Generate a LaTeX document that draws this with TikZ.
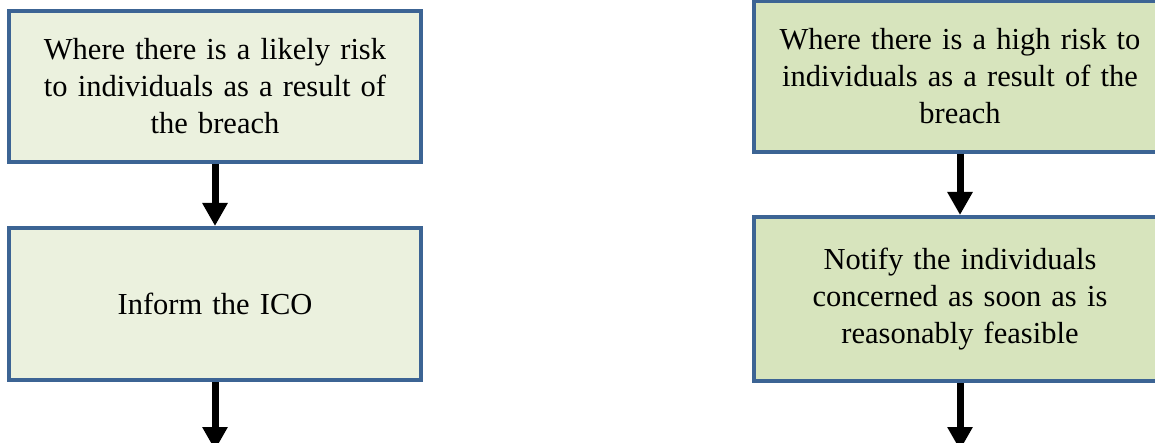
\documentclass[tikz,border=0pt]{standalone}
\usepackage{fontspec}
\setmainfont{Liberation Serif}
\usetikzlibrary{arrows.meta}
\definecolor{boxblue}{HTML}{3C6494}
\definecolor{paleolive}{HTML}{EBF1DE}
\definecolor{lightolive}{HTML}{D7E4BD}

\begin{document}
\begin{tikzpicture}[x=1pt, y=1pt,
            box/.style={rectangle, draw=boxblue, line width=4pt,
                        text width=395pt, align=center,
                        minimum width=412pt,
                        font=\fontsize{30.5}{37}\selectfont},
            flow/.style={-{Triangle[width=24pt,length=23pt]}, line width=7pt, black}
        ]
            \useasboundingbox (0,0) rectangle (1155,-443);
            \clip (0,0) rectangle (1155,-443);
            % likely risk: inform the ICO
            \node[box, fill=paleolive, minimum height=151pt] (likely) at (215,-86.5)
                {Where there is a likely risk\\ to individuals as a result of\\ the breach};
            \node[box, fill=paleolive, minimum height=152pt] (ico) at (215,-304)
                {Inform the ICO};
            \coordinate (icoend) at (215,-450);
            % high risk: notify the individuals
            \node[box, fill=lightolive, minimum height=151pt] (high) at (960,-76.5)
                {Where there is a high risk to\\ individuals as a result of the\\ breach};
            \node[box, fill=lightolive, minimum height=164pt] (notify) at (960,-299)
                {Notify the individuals\\ concerned as soon as is\\ reasonably feasible};
            \coordinate (notifyend) at (960,-450);

            \draw[flow] (likely) -- (ico);
            \draw[flow] (ico) -- (icoend);
            \draw[flow] (high) -- (notify);
            \draw[flow] (notify) -- (notifyend);
        \end{tikzpicture}
\end{document}
